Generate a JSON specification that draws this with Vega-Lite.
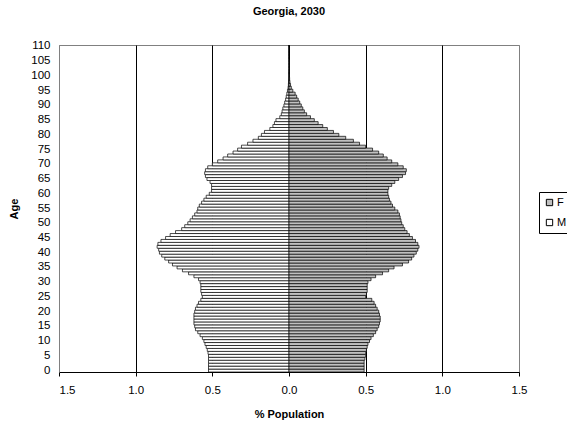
{
  "$schema": "https://vega.github.io/schema/vega-lite/v6.json",
  "width": 460,
  "height": 327,
  "autosize": {"type": "none"},
  "padding": {"left": 59, "top": 45, "right": 48, "bottom": 55},
  "title": {
    "text": "Georgia, 2030",
    "font": "Liberation Sans",
    "fontSize": 11,
    "fontWeight": "bold",
    "anchor": "middle",
    "frame": "group",
    "baseline": "alphabetic",
    "offset": 14
  },
  "config": {
    "font": "Liberation Sans",
    "view": {"stroke": "#808080", "strokeWidth": 1},
    "axis": {
      "labelFont": "Liberation Sans",
      "labelFontSize": 11.5,
      "labelColor": "black",
      "titleFont": "Liberation Sans",
      "titleFontSize": 11,
      "titleFontWeight": "bold",
      "titleColor": "black"
    }
  },
  "data": {
    "values": [
      {"age":0,"sex":"F","pct":0.49},{"age":1,"sex":"F","pct":0.49},{"age":2,"sex":"F","pct":0.49},{"age":3,"sex":"F","pct":0.49},{"age":4,"sex":"F","pct":0.495},
      {"age":5,"sex":"F","pct":0.5},{"age":6,"sex":"F","pct":0.5},{"age":7,"sex":"F","pct":0.505},{"age":8,"sex":"F","pct":0.51},{"age":9,"sex":"F","pct":0.515},
      {"age":10,"sex":"F","pct":0.525},{"age":11,"sex":"F","pct":0.535},{"age":12,"sex":"F","pct":0.55},{"age":13,"sex":"F","pct":0.565},{"age":14,"sex":"F","pct":0.575},
      {"age":15,"sex":"F","pct":0.585},{"age":16,"sex":"F","pct":0.59},{"age":17,"sex":"F","pct":0.595},{"age":18,"sex":"F","pct":0.595},{"age":19,"sex":"F","pct":0.59},
      {"age":20,"sex":"F","pct":0.585},{"age":21,"sex":"F","pct":0.575},{"age":22,"sex":"F","pct":0.565},{"age":23,"sex":"F","pct":0.555},{"age":24,"sex":"F","pct":0.54},
      {"age":25,"sex":"F","pct":0.5},{"age":26,"sex":"F","pct":0.505},{"age":27,"sex":"F","pct":0.51},{"age":28,"sex":"F","pct":0.51},{"age":29,"sex":"F","pct":0.51},
      {"age":30,"sex":"F","pct":0.515},{"age":31,"sex":"F","pct":0.535},{"age":32,"sex":"F","pct":0.565},{"age":33,"sex":"F","pct":0.61},{"age":34,"sex":"F","pct":0.65},
      {"age":35,"sex":"F","pct":0.685},{"age":36,"sex":"F","pct":0.74},{"age":37,"sex":"F","pct":0.78},{"age":38,"sex":"F","pct":0.8},{"age":39,"sex":"F","pct":0.815},
      {"age":40,"sex":"F","pct":0.83},{"age":41,"sex":"F","pct":0.84},{"age":42,"sex":"F","pct":0.848},{"age":43,"sex":"F","pct":0.84},{"age":44,"sex":"F","pct":0.825},
      {"age":45,"sex":"F","pct":0.805},{"age":46,"sex":"F","pct":0.785},{"age":47,"sex":"F","pct":0.77},{"age":48,"sex":"F","pct":0.755},{"age":49,"sex":"F","pct":0.745},
      {"age":50,"sex":"F","pct":0.735},{"age":51,"sex":"F","pct":0.73},{"age":52,"sex":"F","pct":0.725},{"age":53,"sex":"F","pct":0.72},{"age":54,"sex":"F","pct":0.71},
      {"age":55,"sex":"F","pct":0.69},{"age":56,"sex":"F","pct":0.675},{"age":57,"sex":"F","pct":0.665},{"age":58,"sex":"F","pct":0.655},{"age":59,"sex":"F","pct":0.65},
      {"age":60,"sex":"F","pct":0.645},{"age":61,"sex":"F","pct":0.645},{"age":62,"sex":"F","pct":0.65},{"age":63,"sex":"F","pct":0.67},{"age":64,"sex":"F","pct":0.69},
      {"age":65,"sex":"F","pct":0.715},{"age":66,"sex":"F","pct":0.74},{"age":67,"sex":"F","pct":0.76},{"age":68,"sex":"F","pct":0.765},{"age":69,"sex":"F","pct":0.745},
      {"age":70,"sex":"F","pct":0.71},{"age":71,"sex":"F","pct":0.67},{"age":72,"sex":"F","pct":0.64},{"age":73,"sex":"F","pct":0.615},{"age":74,"sex":"F","pct":0.585},
      {"age":75,"sex":"F","pct":0.545},{"age":76,"sex":"F","pct":0.5},{"age":77,"sex":"F","pct":0.46},{"age":78,"sex":"F","pct":0.42},{"age":79,"sex":"F","pct":0.37},
      {"age":80,"sex":"F","pct":0.325},{"age":81,"sex":"F","pct":0.29},{"age":82,"sex":"F","pct":0.25},{"age":83,"sex":"F","pct":0.22},{"age":84,"sex":"F","pct":0.19},
      {"age":85,"sex":"F","pct":0.165},{"age":86,"sex":"F","pct":0.14},{"age":87,"sex":"F","pct":0.115},{"age":88,"sex":"F","pct":0.1},{"age":89,"sex":"F","pct":0.09},
      {"age":90,"sex":"F","pct":0.08},{"age":91,"sex":"F","pct":0.07},{"age":92,"sex":"F","pct":0.06},{"age":93,"sex":"F","pct":0.05},{"age":94,"sex":"F","pct":0.04},
      {"age":95,"sex":"F","pct":0.025},{"age":96,"sex":"F","pct":0.015},{"age":97,"sex":"F","pct":0.01},{"age":98,"sex":"F","pct":0.006},{"age":99,"sex":"F","pct":0.004},
      {"age":100,"sex":"F","pct":0.002},{"age":101,"sex":"F","pct":0.001},{"age":102,"sex":"F","pct":0.001},{"age":103,"sex":"F","pct":0.001},{"age":104,"sex":"F","pct":0.001},
      {"age":105,"sex":"F","pct":0.001},{"age":106,"sex":"F","pct":0},{"age":107,"sex":"F","pct":0},{"age":108,"sex":"F","pct":0},{"age":109,"sex":"F","pct":0},
      {"age":110,"sex":"F","pct":0},
      {"age":0,"sex":"M","pct":0.525},{"age":1,"sex":"M","pct":0.525},{"age":2,"sex":"M","pct":0.525},{"age":3,"sex":"M","pct":0.525},{"age":4,"sex":"M","pct":0.525},
      {"age":5,"sex":"M","pct":0.525},{"age":6,"sex":"M","pct":0.528},{"age":7,"sex":"M","pct":0.533},{"age":8,"sex":"M","pct":0.54},{"age":9,"sex":"M","pct":0.548},
      {"age":10,"sex":"M","pct":0.555},{"age":11,"sex":"M","pct":0.565},{"age":12,"sex":"M","pct":0.58},{"age":13,"sex":"M","pct":0.595},{"age":14,"sex":"M","pct":0.61},
      {"age":15,"sex":"M","pct":0.615},{"age":16,"sex":"M","pct":0.62},{"age":17,"sex":"M","pct":0.62},{"age":18,"sex":"M","pct":0.62},{"age":19,"sex":"M","pct":0.62},
      {"age":20,"sex":"M","pct":0.615},{"age":21,"sex":"M","pct":0.61},{"age":22,"sex":"M","pct":0.6},{"age":23,"sex":"M","pct":0.59},{"age":24,"sex":"M","pct":0.575},
      {"age":25,"sex":"M","pct":0.565},{"age":26,"sex":"M","pct":0.57},{"age":27,"sex":"M","pct":0.575},{"age":28,"sex":"M","pct":0.575},{"age":29,"sex":"M","pct":0.575},
      {"age":30,"sex":"M","pct":0.58},{"age":31,"sex":"M","pct":0.59},{"age":32,"sex":"M","pct":0.62},{"age":33,"sex":"M","pct":0.655},{"age":34,"sex":"M","pct":0.695},
      {"age":35,"sex":"M","pct":0.73},{"age":36,"sex":"M","pct":0.76},{"age":37,"sex":"M","pct":0.785},{"age":38,"sex":"M","pct":0.81},{"age":39,"sex":"M","pct":0.83},
      {"age":40,"sex":"M","pct":0.845},{"age":41,"sex":"M","pct":0.85},{"age":42,"sex":"M","pct":0.86},{"age":43,"sex":"M","pct":0.855},{"age":44,"sex":"M","pct":0.835},
      {"age":45,"sex":"M","pct":0.805},{"age":46,"sex":"M","pct":0.775},{"age":47,"sex":"M","pct":0.74},{"age":48,"sex":"M","pct":0.7},{"age":49,"sex":"M","pct":0.68},
      {"age":50,"sex":"M","pct":0.66},{"age":51,"sex":"M","pct":0.645},{"age":52,"sex":"M","pct":0.63},{"age":53,"sex":"M","pct":0.615},{"age":54,"sex":"M","pct":0.6},
      {"age":55,"sex":"M","pct":0.595},{"age":56,"sex":"M","pct":0.585},{"age":57,"sex":"M","pct":0.57},{"age":58,"sex":"M","pct":0.555},{"age":59,"sex":"M","pct":0.54},
      {"age":60,"sex":"M","pct":0.52},{"age":61,"sex":"M","pct":0.505},{"age":62,"sex":"M","pct":0.505},{"age":63,"sex":"M","pct":0.505},{"age":64,"sex":"M","pct":0.515},
      {"age":65,"sex":"M","pct":0.535},{"age":66,"sex":"M","pct":0.545},{"age":67,"sex":"M","pct":0.55},{"age":68,"sex":"M","pct":0.545},{"age":69,"sex":"M","pct":0.53},
      {"age":70,"sex":"M","pct":0.5},{"age":71,"sex":"M","pct":0.465},{"age":72,"sex":"M","pct":0.43},{"age":73,"sex":"M","pct":0.4},{"age":74,"sex":"M","pct":0.365},
      {"age":75,"sex":"M","pct":0.335},{"age":76,"sex":"M","pct":0.31},{"age":77,"sex":"M","pct":0.27},{"age":78,"sex":"M","pct":0.235},{"age":79,"sex":"M","pct":0.2},
      {"age":80,"sex":"M","pct":0.18},{"age":81,"sex":"M","pct":0.16},{"age":82,"sex":"M","pct":0.125},{"age":83,"sex":"M","pct":0.105},{"age":84,"sex":"M","pct":0.095},
      {"age":85,"sex":"M","pct":0.085},{"age":86,"sex":"M","pct":0.06},{"age":87,"sex":"M","pct":0.05},{"age":88,"sex":"M","pct":0.045},{"age":89,"sex":"M","pct":0.04},
      {"age":90,"sex":"M","pct":0.033},{"age":91,"sex":"M","pct":0.028},{"age":92,"sex":"M","pct":0.022},{"age":93,"sex":"M","pct":0.018},{"age":94,"sex":"M","pct":0.014},
      {"age":95,"sex":"M","pct":0.01},{"age":96,"sex":"M","pct":0.006},{"age":97,"sex":"M","pct":0.004},{"age":98,"sex":"M","pct":0.003},{"age":99,"sex":"M","pct":0.002},
      {"age":100,"sex":"M","pct":0.001},{"age":101,"sex":"M","pct":0.001},{"age":102,"sex":"M","pct":0},{"age":103,"sex":"M","pct":0},{"age":104,"sex":"M","pct":0},
      {"age":105,"sex":"M","pct":0},{"age":106,"sex":"M","pct":0},{"age":107,"sex":"M","pct":0},{"age":108,"sex":"M","pct":0},{"age":109,"sex":"M","pct":0},
      {"age":110,"sex":"M","pct":0}
    ]
  },
  "encoding": {
    "y": {
      "field": "age",
      "type": "ordinal",
      "sort": "descending",
      "scale": {"paddingInner": 0, "paddingOuter": 0},
      "axis": {
        "values": [0,5,10,15,20,25,30,35,40,45,50,55,60,65,70,75,80,85,90,95,100,105,110],
        "ticks": false,
        "labelPadding": 9,
        "domainColor": "#808080",
        "title": "Age",
        "titleX": -42,
        "titleBaseline": "alphabetic"
      }
    },
    "color": {
      "field": "sex",
      "type": "nominal",
      "scale": {"domain": ["F", "M"], "range": ["#c0c0c0", "#ffffff"]},
      "legend": {
        "title": null,
        "orient": "none",
        "legendX": 480,
        "legendY": 147,
        "symbolType": "square",
        "symbolSize": 40,
        "symbolStrokeColor": "black",
        "symbolStrokeWidth": 1,
        "labelFontSize": 11,
        "labelFont": "Liberation Sans",
        "labelColor": "black",
        "labelOffset": 2,
        "rowPadding": 8,
        "padding": 5,
        "strokeColor": "black",
        "fillColor": "white"
      }
    }
  },
  "layer": [
    {
      "transform": [{"filter": "datum.sex === 'M'"}],
      "mark": {"type": "bar", "stroke": "black", "strokeWidth": 0.7},
      "encoding": {
        "x": {
          "field": "pct",
          "type": "quantitative",
          "scale": {"domain": [0, 1.5], "range": [230, 0], "nice": false},
          "axis": {
            "orient": "bottom",
            "values": [0.5, 1, 1.5],
            "format": ".1f",
            "title": null,
            "grid": true,
            "gridColor": {"condition": {"test": "datum.value >= 1.5", "value": "#808080"}, "value": "black"},
            "gridOpacity": 1,
            "domainColor": "black",
            "tickColor": "black",
            "tickSize": 4,
            "labelPadding": 8,
            "labelFlush": true
          }
        }
      }
    },
    {
      "transform": [{"filter": "datum.sex === 'F'"}],
      "mark": {"type": "bar", "stroke": "black", "strokeWidth": 0.7},
      "encoding": {
        "x": {
          "field": "pct",
          "type": "quantitative",
          "scale": {"domain": [0, 1.5], "range": [230, 460], "nice": false},
          "axis": {
            "orient": "bottom",
            "values": [0, 0.5, 1, 1.5],
            "format": ".1f",
            "title": "% Population",
            "titleX": 230,
            "titleY": 45,
            "titleBaseline": "alphabetic",
            "grid": true,
            "gridColor": {"condition": {"test": "datum.value >= 1.5", "value": "#808080"}, "value": "black"},
            "gridOpacity": 1,
            "domainColor": "black",
            "tickColor": "black",
            "tickSize": 4,
            "labelPadding": 8,
            "labelFlush": false
          }
        }
      }
    }
  ],
  "resolve": {"scale": {"x": "independent"}, "axis": {"x": "independent"}}
}
